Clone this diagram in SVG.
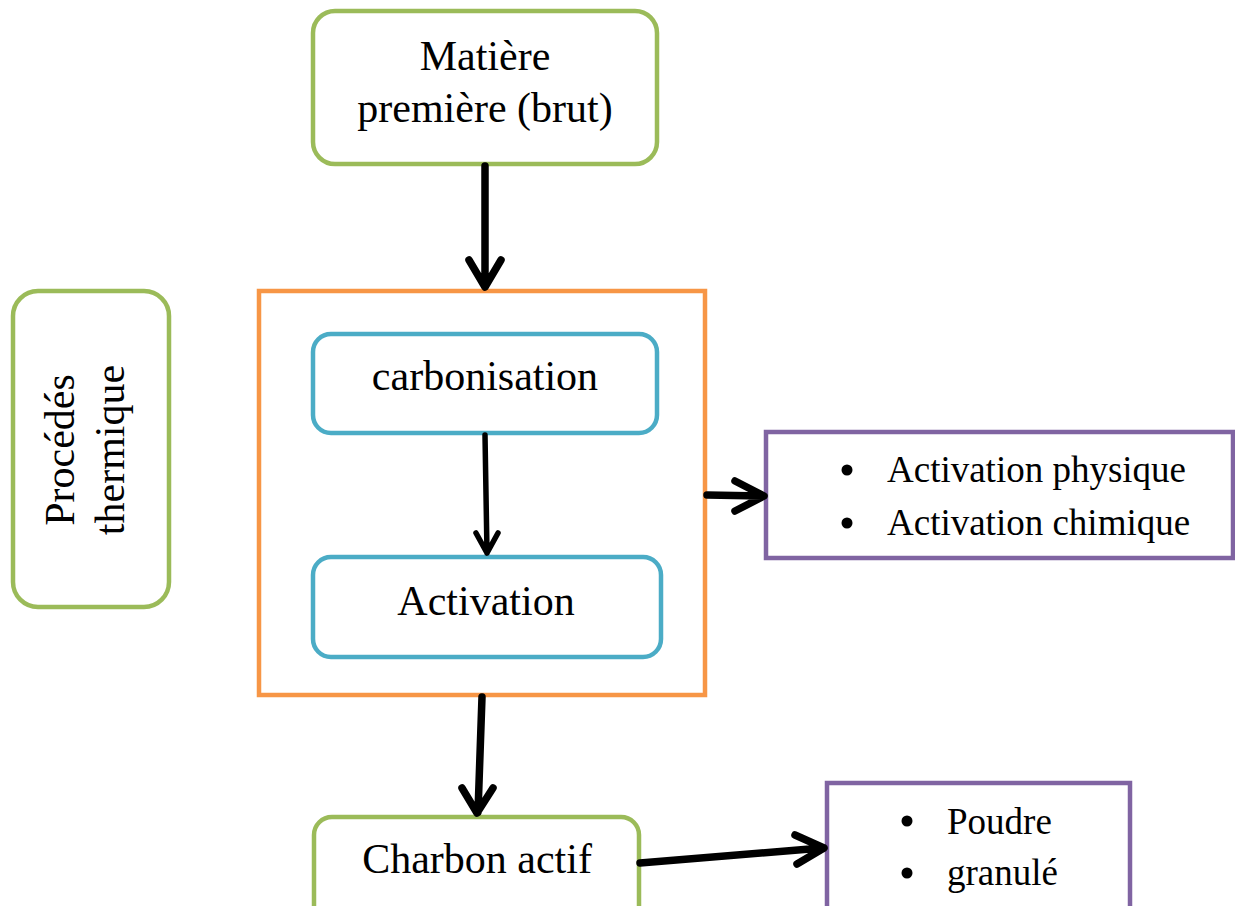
<svg xmlns="http://www.w3.org/2000/svg" width="1235" height="906" viewBox="0 0 1235 906">
<style>
.t{font-family:"Liberation Serif","Times New Roman",serif;font-size:42px;fill:#000}
.l{font-family:"Liberation Serif","Times New Roman",serif;font-size:37px;fill:#000}
.g{fill:#fff;stroke:#9BBB59;stroke-width:4.5}
.b{fill:#fff;stroke:#4BACC6;stroke-width:4.5}
.o{fill:none;stroke:#F79646;stroke-width:4.5}
.p{fill:#fff;stroke:#8064A2;stroke-width:4.5}
.a{fill:none;stroke:#000;stroke-width:7.5;stroke-linecap:round;stroke-linejoin:round}
.a2{fill:none;stroke:#000;stroke-width:5.5;stroke-linecap:round;stroke-linejoin:round}
</style>
<rect width="1235" height="906" fill="#fff"/>
<g id="procede">
<rect class="o" x="259" y="291" width="446" height="404"/>
</g>
<g id="matiere">
<rect class="g" x="313" y="11" width="344" height="153" rx="22"/>
<text class="t" x="485" y="70" text-anchor="middle">Matière</text>
<text class="t" x="485" y="122" text-anchor="middle">première (brut)</text>
</g>
<g id="thermique">
<rect class="g" x="13" y="291" width="156" height="316" rx="25"/>
<text class="t" transform="translate(74,450) rotate(-90)" text-anchor="middle">Procédés</text>
<text class="t" transform="translate(124,450) rotate(-90)" text-anchor="middle">thermique</text>
</g>
<g id="carbonisation">
<rect class="b" x="313" y="334" width="344" height="99" rx="18"/>
<text class="t" x="485" y="390" text-anchor="middle">carbonisation</text>
</g>
<g id="activation">
<rect class="b" x="313" y="557" width="348" height="100" rx="18"/>
<text class="t" x="486" y="615" text-anchor="middle">Activation</text>
</g>
<g id="types-activation">
<rect class="p" x="766" y="432" width="467" height="126"/>
<circle cx="847" cy="470" r="5.5"/>
<circle cx="847" cy="523" r="5.5"/>
<text class="l" x="887" y="482">Activation physique</text>
<text class="l" x="887" y="535">Activation chimique</text>
</g>
<g id="charbon">
<rect class="g" x="314" y="817" width="325" height="120" rx="18"/>
<text class="t" x="477" y="873" text-anchor="middle">Charbon actif</text>
</g>
<g id="formes">
<rect class="p" x="827" y="783" width="303" height="150"/>
<circle cx="907" cy="821" r="5.5"/>
<circle cx="907" cy="873" r="5.5"/>
<text class="l" x="947" y="834">Poudre</text>
<text class="l" x="947" y="885">granulé</text>
</g>
<g id="connectors">
<path class="a" d="M485,166 L485,286 M469,260 L485,287 L501,260"/>
<path class="a2" d="M485,435 L487,553 M476,533 L487,553 L498,533"/>
<path class="a" d="M707,495 L762,496 M735,481 L764,496 L735,511"/>
<path class="a" d="M482,697 L478,812 M462,788 L477,813 L493,788"/>
<path class="a" d="M640,863 L822,848 M795,835 L824,848 M797,864 L824,848"/>
</g>
</svg>
